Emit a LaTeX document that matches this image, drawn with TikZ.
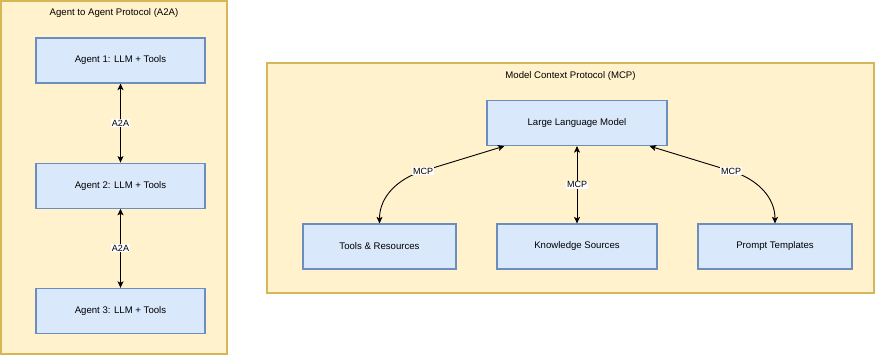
\documentclass[tikz,border=0pt]{standalone}
\usepackage{fontspec}
\setmainfont{Liberation Sans}
\usepackage{tikz}
\usetikzlibrary{arrows.meta,positioning,calc}

\definecolor{panelfill}{HTML}{FFF2CC}
\definecolor{paneldraw}{HTML}{D6B656}
\definecolor{boxfill}{HTML}{DAE8FC}
\definecolor{boxdraw}{HTML}{6C8EBF}

\begin{document}
\begin{tikzpicture}[
    x=1pt, y=-1pt,
    font=\fontsize{9.6}{11}\selectfont,
    panel/.style={draw=paneldraw, fill=panelfill, line width=1.3pt},
    agentbox/.style={rectangle, draw=boxdraw, fill=boxfill, line width=1.2pt, minimum width=169pt, minimum height=45pt, inner sep=0pt},
    mcpbox/.style={rectangle, draw=boxdraw, fill=boxfill, line width=1.2pt, minimum height=45pt, inner sep=0pt},
    link/.style={{Stealth[length=6.5pt,width=6pt,inset=1.5pt]}-{Stealth[length=6.5pt,width=6pt,inset=1.5pt]}, line width=0.9pt},
    lbl/.style={fill=white, inner sep=1pt, font=\fontsize{9}{10}\selectfont},
]
    \useasboundingbox (0,0) rectangle (875,355);

    % left panel: A2A
    \draw[panel] (1,1) rectangle (227,354);
    \node (a2atitle) at (114,13) {Agent to Agent Protocol (A2A)};
    \node[agentbox] (agent1) at (120.5,60.5) {Agent 1: LLM + Tools};
    \node[agentbox, below=79pt of agent1] (agent2) {Agent 2: LLM + Tools};
    \node[agentbox, below=79pt of agent2] (agent3) {Agent 3: LLM + Tools};

    \draw[link] (agent1) -- node[lbl] {A2A} (agent2);
    \draw[link] (agent2) -- node[lbl] {A2A} (agent3);

    % right panel: MCP
    \draw[panel] (267,63) rectangle (874,293);
    \node (mcptitle) at (570.5,76) {Model Context Protocol (MCP)};
    \node[mcpbox, minimum width=180pt] (llm) at (577,123) {Large Language Model};
    \node[mcpbox, minimum width=153pt] (tools) at (379.5,246.5) {Tools \& Resources};
    \node[mcpbox, minimum width=160pt] (know) at (577,246.5) {Knowledge Sources};
    \node[mcpbox, minimum width=154pt] (prompt) at (775,246.5) {Prompt Templates};

    \coordinate (mcpleft) at (423,171);
    \coordinate (mcpright) at (731,171);
    \draw[link] (tools.north) to[out=90,in=197] (mcpleft) -- ($(llm.south west)+(18,0)$);
    \draw[link] (prompt.north) to[out=90,in=-17] (mcpright) -- ($(llm.south east)+(-18,0)$);
    \draw[link] (llm) -- node[lbl] {MCP} (know);
    \node[lbl] at (mcpleft) {MCP};
    \node[lbl] at (mcpright) {MCP};
\end{tikzpicture}
\end{document}
